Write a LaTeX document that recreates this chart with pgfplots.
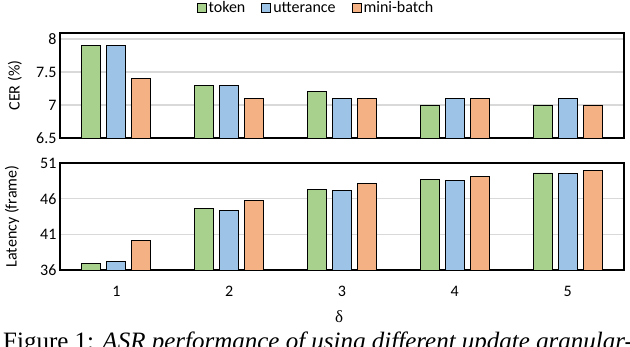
\documentclass[border=0pt]{standalone}
\usepackage{fontspec}
\setmainfont{Carlito}
\newfontfamily\capfont{Liberation Serif}
\usepackage{pgfplots}
\pgfplotsset{compat=1.18}

\definecolor{cgreen}{HTML}{A9D18E}
\definecolor{cblue}{HTML}{9DC3E6}
\definecolor{corange}{HTML}{F4B183}
\definecolor{cgrid}{HTML}{D9D9D9}

% CER (%) per update granularity, delta = 1..5
\pgfplotstableread{
d token utterance minibatch
1 7.9 7.9 7.4
2 7.3 7.3 7.1
3 7.2 7.1 7.1
4 7.0 7.1 7.1
5 7.0 7.1 7.0
}\cer

% latency in frames
\pgfplotstableread{
d token utterance minibatch
1 36.9 37.2 40.2
2 44.6 44.3 45.7
3 47.3 47.2 48.1
4 48.7 48.5 49.1
5 49.6 49.5 49.9
}\latency

\pgfplotsset{
  gran/.style={
    width=564pt, scale only axis,
    xmin=0.5, xmax=5.5,
    xtick={1,...,5},
    ybar=6pt, bar width=19pt,
    major tick length=0pt,
    ymajorgrids, major grid style={cgrid, line width=1.5pt},
    axis line style={line width=1.6pt},
    tick label style={font=\fontsize{16}{18}\selectfont},
    label style={font=\fontsize{16}{18}\selectfont},
    /pgf/number format/assume math mode=true,
    every axis plot/.append style={draw=black, line width=0.9pt},
    legend image code/.code={\draw[#1, line width=0.9pt] (0pt,-4.5pt) rectangle (9pt,4.5pt);},
  }
}

\begin{document}
\begin{tikzpicture}
\useasboundingbox (0,0) rectangle (630pt,-346pt);

\begin{axis}[gran,
    at={(60pt,-138pt)}, anchor=south west,
    height=105pt,
    ymin=6.5, ymax=8.09,
    ytick={6.5,7,7.5,8},
    xticklabels={},
    ylabel={CER (\%)},
    ylabel style={at={(axis description cs:-0.0798,0.5)}, anchor=center},
    legend style={at={(0.5,1)}, anchor=center, xshift=-26pt, yshift=25pt,
      draw=none, fill=none, legend columns=-1,
      font=\fontsize{16}{18}\selectfont,
      /tikz/every even column/.append style={column sep=14pt}},
]
\addplot[fill=cgreen] table[x=d, y=token] {\cer};
\addplot[fill=cblue] table[x=d, y=utterance] {\cer};
\addplot[fill=corange] table[x=d, y=minibatch] {\cer};
\legend{token, utterance, mini-batch}
\end{axis}

\begin{axis}[gran,
    at={(60pt,-270pt)}, anchor=south west,
    height=107pt,
    ymin=36, ymax=51,
    ytick={36,41,46,51},
    ylabel={Latency (frame)},
    ylabel style={at={(axis description cs:-0.0851,0.5)}, anchor=center},
    xlabel={δ},
    xlabel style={at={(axis description cs:0.495,-0.44)}, anchor=center,
      font=\capfont\fontsize{17}{19}\selectfont},
    xticklabel style={yshift=-13pt},
]
\addplot[fill=cgreen] table[x=d, y=token] {\latency};
\addplot[fill=cblue] table[x=d, y=utterance] {\latency};
\addplot[fill=corange] table[x=d, y=minibatch] {\latency};
\end{axis}

\node[anchor=base west, inner sep=0pt, font=\capfont\fontsize{25}{28}\selectfont]
  at (3pt,-349.5pt) {Figure 1: \textit{ASR performance of using different update granular-}};
\end{tikzpicture}
\end{document}
